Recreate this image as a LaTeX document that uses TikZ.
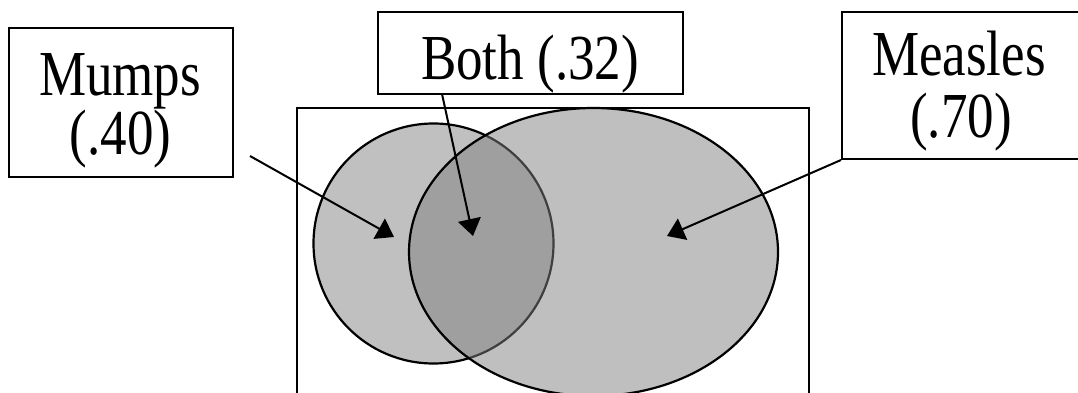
\documentclass[tikz,border=0pt]{standalone}
\usepackage{fontspec}
\setmainfont{Liberation Serif}
\usetikzlibrary{arrows.meta}
\definecolor{lightfill}{RGB}{192,192,192}
\definecolor{midfill}{RGB}{127,127,127}
\begin{document}
\begin{tikzpicture}[x=1pt,y=-1pt,
  box/.style={draw,line width=2pt,inner sep=0pt,fill=white},
  lbl/.style={anchor=base,inner sep=0pt,font=\fontsize{53}{60}\selectfont},
  pointer/.style={line width=2pt,-{Triangle[length=17pt,width=23pt]}},
  setline/.style={line width=2.2pt}]
\useasboundingbox (0,0) rectangle (1078,393);
\clip (0,0) rectangle (1078,393);
% universe rectangle (open at the bottom of the picture)
\draw[line width=2pt] (297,400) -- (297,108) -- (809,108) -- (809,400);
% Mumps circle
\draw[setline,fill=lightfill] (433.5,243.5) circle [radius=120pt];
% Measles ellipse, semi-transparent fill
\draw[setline,fill=midfill,fill opacity=0.5] (593.5,252) ellipse [x radius=184.5pt, y radius=144pt];
% label boxes
\node[box,minimum width=224pt,minimum height=149pt] (mumpsbox) at (121,102.5) {};
\node[box,minimum width=305pt,minimum height=82pt] (bothbox) at (530.5,53) {};
\node[box,minimum width=237pt,minimum height=147pt] (measlesbox) at (960.5,85.5) {};
% texts
\node[lbl] (mumpsA) at (120,96) {\scalebox{1}[1.21]{Mumps}};
\node[lbl] (mumpsB) at (120.5,154) {\scalebox{1}[1.21]{(.40)}};
\node[lbl] (bothT) at (530,80) {\scalebox{1}[1.21]{Both (.32)}};
\node[lbl] (measlesA) at (959,76) {\scalebox{1}[1.21]{Measles}};
\node[lbl] (measlesB) at (961,137) {\scalebox{1}[1.21]{(.70)}};
% arrow ends
\coordinate (mumpsstart) at (250,156);
\coordinate (mumpstip) at (394,237);
\coordinate (bothstart) at (442,94);
\coordinate (bothtip) at (473,236);
\coordinate (measlesstart) at (measlesbox.south west);
\coordinate (measlestip) at (667,236);
\draw[pointer] (mumpsstart) -- (mumpstip);
\draw[pointer] (bothstart) -- (bothtip);
\draw[pointer] (measlesstart) -- (measlestip);
\end{tikzpicture}
\end{document}
